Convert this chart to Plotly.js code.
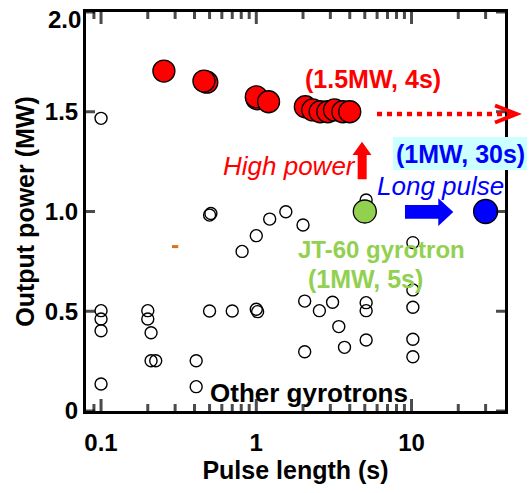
<!DOCTYPE html>
<html>
<head>
<meta charset="utf-8">
<script src="https://cdn.plot.ly/plotly-3.0.1.min.js"></script>
<style>
  html, body { margin: 0; padding: 0; background: #fff; }
  #chart { width: 529px; height: 493px; }
</style>
</head>
<body>
<div id="chart"></div>
<script>
// Gyrotron output power versus pulse length

// Other gyrotrons (open circles)
const otherPulse = [0.1, 0.1, 0.1, 0.1, 0.1, 0.2, 0.2, 0.21, 0.21, 0.225, 0.41, 0.41,
                    0.5, 0.51, 0.5, 0.7, 0.81, 1.0, 1.0, 1.02, 1.22, 1.55, 2.0, 2.05,
                    2.05, 2.55, 3.1, 3.4, 3.7, 5.1, 5.1, 5.1, 5.1, 10.2, 10.2, 10.2, 10.2, 10.2];
const otherPower = [1.467, 0.503, 0.461, 0.402, 0.135, 0.503, 0.461, 0.392, 0.252, 0.252, 0.252, 0.122,
                    0.982, 0.99, 0.501, 0.501, 0.80, 0.879, 0.51, 0.498, 0.962, 0.999, 0.932, 0.551,
                    0.297, 0.503, 0.545, 0.423, 0.319, 1.058, 0.543, 0.503, 0.356, 0.844, 0.607, 0.52, 0.36, 0.272];

// High-power development shots (red)
const highPulse = [0.254, 0.48, 0.46, 1.01, 1.0, 1.2, 2.07, 2.31, 2.58, 2.89, 3.19, 3.61, 4.0];
const highPower = [1.704, 1.648, 1.654, 1.565, 1.575, 1.55, 1.525, 1.509, 1.50, 1.50, 1.509, 1.50, 1.5];

// JT-60 gyrotron (1MW, 5s)
const jt60Pulse = [5];
const jt60Power = [1.0];

// Long-pulse result (1MW, 30s)
const longPulse = [30];
const longPower = [1.0];

// Small orange mark
const markPulse = [0.3];
const markPower = [0.824];

// Axis ticks
const xMin = 0.08, xMax = 40;
const yMin = 0, yMax = 2;
const xTickVals = [0.1, 1, 10];
const xTickText = ['0.1', '1', '10'];
const xMinorVals = [0.09, 0.2, 0.3, 0.4, 0.5, 0.6, 0.7, 0.8, 0.9,
                    2, 3, 4, 5, 6, 7, 8, 9, 20, 30];
const yTickVals = [0, 0.5, 1.0, 1.5, 2.0];
const yTickText = ['0', '0.5', '1.0', '1.5', ''];
const yTopLabel = '2.0';

const FONT = 'Liberation Sans, Arial, Helvetica, sans-serif';
const RED = '#ff0000', BLUE = '#0000ff', GREEN = '#92d050';

// plot box in pixels (for placing annotations and arrows)
const M = { l: 86, r: 24, t: 12, b: 82 };
const W = 529, H = 493;
const PW = W - M.l - M.r, PH = H - M.t - M.b;
const fx = x => (x - M.l) / PW;
const fy = y => (H - M.b - y) / PH;
const pathOf = pts => pts.map((p, i) => (i ? 'L' : 'M') + fx(p[0]).toFixed(4) + ',' + fy(p[1]).toFixed(4)).join(' ') + ' Z';

const lx0 = Math.log10(xMin), lx1 = Math.log10(xMax);

// inward tick marks on all four sides of the frame, drawn as line markers
// (plotly line symbols are 1.4 x marker size long)
const yPerPx = (yMax - yMin) / PH;
const decPerPx = (lx1 - lx0) / PW;
const tick = { x: [], y: [], size: [], symbol: [] };
const addXTick = (v, len) => {
  const dy = (len / 2) * yPerPx;
  tick.x.push(v, v);
  tick.y.push(yMin + dy, yMax - dy);
  tick.size.push(len / 1.4, len / 1.4);
  tick.symbol.push('line-ns', 'line-ns');
};
const addYTick = (v, len) => {
  const k = Math.pow(10, (len / 2) * decPerPx);
  tick.x.push(xMin * k, xMax / k);
  tick.y.push(v, v);
  tick.size.push(len / 1.4, len / 1.4);
  tick.symbol.push('line-ew', 'line-ew');
};
xTickVals.forEach(v => addXTick(v, 12));
xMinorVals.forEach(v => addXTick(v, 7));
yTickVals.forEach(v => addYTick(v, 9));

const traces = [
  {
    x: otherPulse, y: otherPower, type: 'scatter', mode: 'markers', name: 'Other gyrotrons',
    marker: { symbol: 'circle-open', size: 12, color: '#000', line: { width: 1.4, color: '#000' } }
  },
  {
    x: markPulse, y: markPower, type: 'scatter', mode: 'markers', name: 'mark',
    marker: { symbol: 'line-ew', size: 4.5, line: { width: 3, color: '#d9731a' } }
  },
  {
    x: highPulse, y: highPower, type: 'scatter', mode: 'markers', name: 'High power',
    marker: { symbol: 'circle', size: 22, color: RED, line: { width: 1.3, color: '#000' } }
  },
  {
    x: jt60Pulse, y: jt60Power, type: 'scatter', mode: 'markers', name: 'JT-60 gyrotron',
    marker: { symbol: 'circle', size: 23, color: GREEN, line: { width: 1.3, color: '#000' } }
  },
  {
    x: longPulse, y: longPower, type: 'scatter', mode: 'markers', name: 'Long pulse',
    marker: { symbol: 'circle', size: 24, color: BLUE, line: { width: 1.3, color: '#000' } }
  },
  {
    x: tick.x, y: tick.y, type: 'scatter', mode: 'markers', name: 'ticks', cliponaxis: false,
    hoverinfo: 'skip',
    marker: { symbol: tick.symbol, size: tick.size, color: '#000', line: { width: 3, color: '#000' } }
  }
];

const ann = (text, x, y, size, color, opts) => Object.assign({
  text: text, xref: 'paper', yref: 'paper', x: fx(x), y: fy(y),
  xanchor: 'center', yanchor: 'middle', showarrow: false,
  font: { family: FONT, size: size, color: color, weight: 'bold' }
}, opts || {});

const axisFont = { family: FONT, size: 24, weight: 'bold', color: '#000' };

const layout = {
  width: W, height: H,
  margin: M,
  paper_bgcolor: '#fff', plot_bgcolor: '#fff',
  showlegend: false,
  font: { family: FONT, color: '#000' },
  xaxis: {
    type: 'log',
    range: [lx0, lx1],
    tickmode: 'array', tickvals: xTickVals, ticktext: xTickText, ticks: '',
    showline: true, linewidth: 3, linecolor: '#000', mirror: true,
    showgrid: false, zeroline: false,
    tickfont: axisFont,
    ticklabelstandoff: 8,
    title: { text: 'Pulse length (s)', font: { family: FONT, size: 25, weight: 'bold', color: '#000' }, standoff: 3 }
  },
  yaxis: {
    range: [yMin, yMax],
    tickmode: 'array', tickvals: yTickVals, ticktext: yTickText, ticks: '',
    showline: true, linewidth: 3, linecolor: '#000', mirror: true,
    showgrid: false, zeroline: false,
    tickfont: axisFont,
    title: { text: 'Output power (MW)', font: { family: FONT, size: 25, weight: 'bold', color: '#000' }, standoff: 4 }
  },
  shapes: [
    // pale cyan backing for the long-pulse label
    { type: 'rect', xref: 'paper', yref: 'paper', layer: 'above',
      x0: fx(393), x1: fx(527), y0: fy(170), y1: fy(137),
      fillcolor: '#ccffff', line: { width: 0 } },
    // dotted extension arrow from the 4 s point
    { type: 'line', xref: 'paper', yref: 'paper', layer: 'above',
      x0: fx(377), x1: fx(511), y0: fy(114), y1: fy(114),
      line: { color: RED, width: 4.5, dash: '5px,5px' } },
    { type: 'path', xref: 'paper', yref: 'paper', layer: 'above',
      path: 'M' + fx(495) + ',' + fy(105.5) + ' L' + fx(516.5) + ',' + fy(114) + ' L' + fx(495) + ',' + fy(122.5),
      line: { color: RED, width: 4 } },
    // red up arrow (high power)
    { type: 'path', xref: 'paper', yref: 'paper', layer: 'above',
      path: pathOf([[362, 141.7], [371.5, 155], [366.7, 155], [366.7, 179.3], [357.7, 179.3], [357.7, 155], [352.5, 155]]),
      fillcolor: RED, line: { width: 0 } },
    // blue right arrow (long pulse)
    { type: 'path', xref: 'paper', yref: 'paper', layer: 'above',
      path: pathOf([[405, 205], [438.3, 205], [438.3, 198.3], [453.3, 212], [438.3, 226], [438.3, 218.7], [405, 218.7]]),
      fillcolor: BLUE, line: { width: 0 } }
  ],
  annotations: [
    // top label of the power axis, nudged just below the frame corner
    { text: yTopLabel, xref: 'paper', yref: 'paper', x: fx(83), y: fy(19.5),
      xanchor: 'right', yanchor: 'middle', showarrow: false, font: axisFont },
    ann('(1.5MW, 4s)', 373, 79, 25, RED),
    ann('High power', 289, 165.5, 26, RED, { font: { family: FONT, size: 26, color: RED, style: 'italic' } }),
    ann('(1MW, 30s)', 460, 154, 25, BLUE),
    ann('Long pulse', 440, 186, 26, BLUE, { font: { family: FONT, size: 26, color: BLUE, style: 'italic' } }),
    ann('JT-60 gyrotron', 381, 249.5, 24, GREEN),
    ann('(1MW, 5s)', 365.5, 278.5, 25, GREEN),
    ann('Other gyrotrons', 309, 393, 26, '#000')
  ]
};

Plotly.newPlot('chart', traces, layout, { displayModeBar: false, staticPlot: true });
</script>
</body>
</html>
